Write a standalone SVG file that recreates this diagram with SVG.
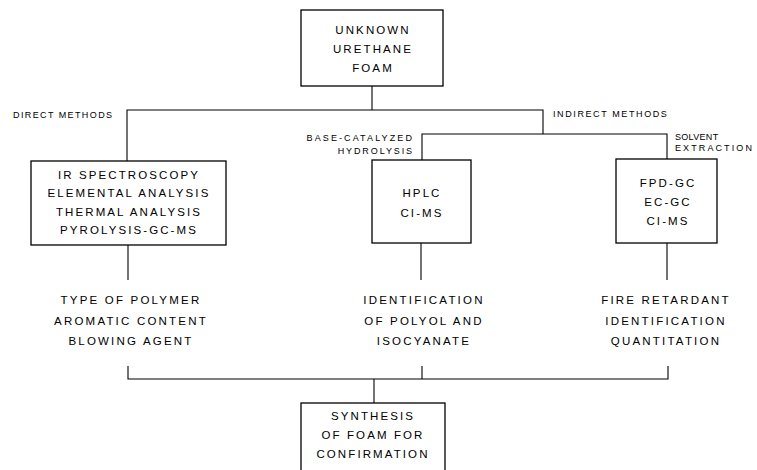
<svg xmlns="http://www.w3.org/2000/svg" width="757" height="470" viewBox="0 0 757 470">
<style>
.box{fill:#fff;stroke:#000;stroke-width:1.3}
.t{font-family:"Liberation Sans",Arial,sans-serif;font-size:11.5px;letter-spacing:2.1px;fill:#000;text-anchor:middle}
.b{font-family:"Liberation Sans",Arial,sans-serif;font-size:11.5px;letter-spacing:2.2px;fill:#000;text-anchor:middle}
.l{font-family:"Liberation Sans",Arial,sans-serif;font-size:9px;letter-spacing:1.4px;fill:#000}
.c{fill:none;stroke:#000;stroke-width:1.1}
</style>
<rect width="757" height="470" fill="#fff"/>
<g id="connectors">
<path class="c" d="M372,86 V110"/>
<path class="c" d="M127,161 V110 H543 V134"/>
<path class="c" d="M422,160 V134 H667 V159"/>
<path class="c" d="M128,245 V280"/>
<path class="c" d="M421,243 V280"/>
<path class="c" d="M667,243 V280"/>
<path class="c" d="M128,366 V379 H668 V366"/>
<path class="c" d="M422,379 V366"/>
<path class="c" d="M374,379 V403"/>
</g>
<g id="labels">
<text class="l" x="13" y="118">DIRECT METHODS</text>
<text class="l" x="553" y="117" style="letter-spacing:1.6px">INDIRECT METHODS</text>
<text class="l" x="414" y="141" style="text-anchor:end;letter-spacing:2.1px">BASE-CATALYZED</text>
<text class="l" x="414" y="154" style="text-anchor:end;letter-spacing:1.9px">HYDROLYSIS</text>
<text class="l" x="675" y="140" style="letter-spacing:0.3px">SOLVENT</text>
<text class="l" x="675" y="151" style="letter-spacing:2.1px">EXTRACTION</text>
</g>
<g id="unknown">
<rect class="box" x="301" y="10" width="142" height="76"/>
<text class="t" x="373" y="34">UNKNOWN</text>
<text class="t" x="373" y="53">URETHANE</text>
<text class="t" x="373" y="72">FOAM</text>
</g>
<g id="direct">
<rect class="box" x="31" y="161" width="195" height="84"/>
<text class="t" x="129" y="179">IR SPECTROSCOPY</text>
<text class="t" x="129" y="197">ELEMENTAL ANALYSIS</text>
<text class="t" x="129" y="216">THERMAL ANALYSIS</text>
<text class="t" x="129" y="234">PYROLYSIS-GC-MS</text>
</g>
<g id="hplc">
<rect class="box" x="372" y="160" width="99" height="83"/>
<text class="t" x="422" y="197">HPLC</text>
<text class="t" x="422" y="217">CI-MS</text>
</g>
<g id="fpd">
<rect class="box" x="616" y="159" width="101" height="84"/>
<text class="t" x="668" y="187">FPD-GC</text>
<text class="t" x="668" y="206">EC-GC</text>
<text class="t" x="668" y="225">CI-MS</text>
</g>
<g id="polymer">
<text class="b" x="131" y="304">TYPE OF POLYMER</text>
<text class="b" x="131" y="325">AROMATIC CONTENT</text>
<text class="b" x="131" y="345">BLOWING AGENT</text>
</g>
<g id="polyol">
<text class="b" x="424" y="304">IDENTIFICATION</text>
<text class="b" x="424" y="325">OF POLYOL AND</text>
<text class="b" x="424" y="345">ISOCYANATE</text>
</g>
<g id="retardant">
<text class="b" x="666" y="304">FIRE RETARDANT</text>
<text class="b" x="666" y="325">IDENTIFICATION</text>
<text class="b" x="666" y="345">QUANTITATION</text>
</g>
<g id="synthesis">
<rect class="box" x="301" y="403" width="144" height="75"/>
<text class="t" x="373" y="420">SYNTHESIS</text>
<text class="t" x="373" y="439">OF FOAM FOR</text>
<text class="t" x="373" y="458">CONFIRMATION</text>
</g>
</svg>
